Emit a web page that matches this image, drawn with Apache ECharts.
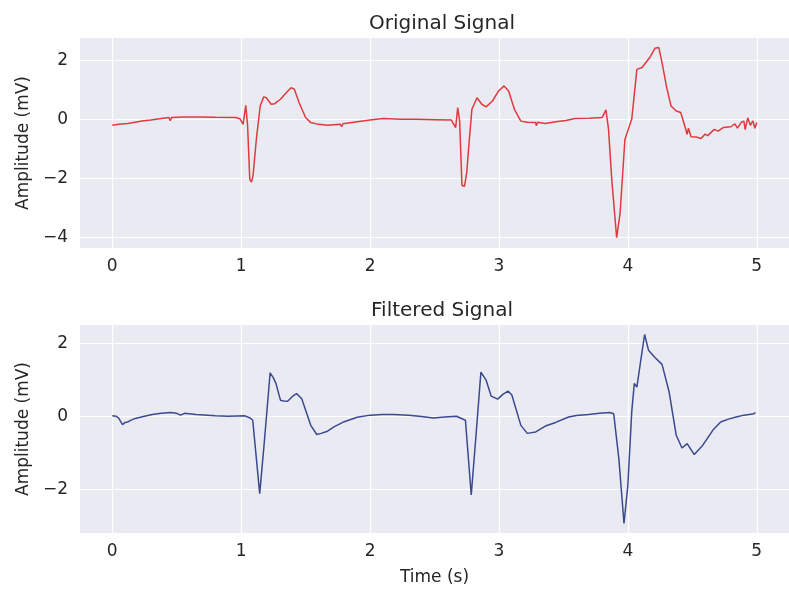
<!DOCTYPE html>
<html>
<head>
<meta charset="utf-8">
<script src="https://cdn.jsdelivr.net/npm/echarts@6/dist/echarts.min.js"></script>
<style>
    html, body { margin: 0; padding: 0; background: #fff; }
    #chart { width: 789px; height: 592px; }
</style>
</head>
<body>
<div id="chart"></div>
<script>
// ticks
var xTicks = [0, 1, 2, 3, 4, 5];
var yTicksTop = [-4, -2, 0, 2];
var yTicksBottom = [-2, 0, 2];

// original signal (time in s, amplitude in mV)
var tOrig = [0, 0.05, 0.12, 0.2, 0.23, 0.3, 0.38, 0.44, 0.45, 0.46, 0.55, 0.67, 0.8, 0.96, 0.99,
    1.015, 1.036, 1.05, 1.067, 1.08, 1.092, 1.105, 1.118, 1.148, 1.175, 1.195, 1.233, 1.26, 1.305,
    1.35, 1.387, 1.413, 1.45, 1.5, 1.54, 1.6, 1.67, 1.77, 1.78, 1.79, 1.9, 2.0, 2.1, 2.24, 2.36,
    2.5, 2.63, 2.664, 2.68, 2.695, 2.713, 2.733, 2.75, 2.77, 2.79, 2.83, 2.867, 2.9, 2.95, 2.997,
    3.04, 3.075, 3.12, 3.17, 3.22, 3.285, 3.29, 3.3, 3.36, 3.44, 3.52, 3.59, 3.7, 3.8, 3.83, 3.85,
    3.875, 3.913, 3.94, 3.977, 4.008, 4.03, 4.07, 4.11, 4.17, 4.21, 4.24, 4.27, 4.3, 4.335, 4.375,
    4.41, 4.44, 4.46, 4.47, 4.49, 4.53, 4.567, 4.6, 4.62, 4.67, 4.7, 4.74, 4.8, 4.83, 4.85, 4.88,
    4.9, 4.91, 4.93, 4.95, 4.97, 4.985, 5.0];
var vOrig = [-0.2, -0.17, -0.14, -0.08, -0.06, -0.02, 0.03, 0.06, -0.05, 0.06, 0.08, 0.08, 0.07, 0.06, 0.02,
    -0.17, 0.47, -0.2, -2.03, -2.12, -1.92, -1.3, -0.68, 0.45, 0.76, 0.73, 0.51, 0.53, 0.68,
    0.9, 1.07, 1.02, 0.56, 0.06, -0.11, -0.17, -0.2, -0.17, -0.25, -0.15, -0.08, -0.02, 0.03, 0.0, 0.0,
    -0.01, -0.02, -0.28, 0.4, -0.05, -2.24, -2.26, -1.8, -0.7, 0.34, 0.73, 0.51, 0.42, 0.62, 0.96,
    1.13, 0.96, 0.34, -0.06, -0.1, -0.11, -0.22, -0.1, -0.14, -0.08, -0.04, 0.03, 0.04, 0.06, 0.32, -0.34,
    -2.03, -4.0, -3.16, -0.68, -0.28, 0.0, 1.69, 1.75, 2.09, 2.4, 2.43, 1.81, 1.1, 0.45, 0.28,
    0.23, -0.2, -0.51, -0.3, -0.59, -0.6, -0.65, -0.5, -0.55, -0.34, -0.4, -0.28, -0.25, -0.15, -0.3, -0.1,
    -0.06, -0.35, 0.05, -0.2, -0.05, -0.3, -0.11];

// filtered signal
var tFilt = [0, 0.03, 0.05, 0.08, 0.1, 0.118, 0.15, 0.18, 0.25, 0.31, 0.38, 0.45, 0.5, 0.53, 0.56,
    0.65, 0.8, 0.9, 1.03, 1.07, 1.09, 1.144, 1.18, 1.225, 1.25, 1.27, 1.305, 1.33, 1.36, 1.4, 1.43,
    1.47, 1.54, 1.587, 1.62, 1.67, 1.72, 1.8, 1.85, 1.9, 2.0, 2.1, 2.18, 2.3, 2.4, 2.49, 2.58, 2.67,
    2.74, 2.785, 2.82, 2.86, 2.9, 2.94, 2.99, 3.03, 3.07, 3.1, 3.17, 3.22, 3.285, 3.36, 3.44, 3.54,
    3.6, 3.695, 3.78, 3.86, 3.89, 3.93, 3.97, 4.0, 4.03, 4.05, 4.07, 4.1, 4.13, 4.16, 4.21, 4.265,
    4.32, 4.375, 4.42, 4.46, 4.515, 4.58, 4.66, 4.72, 4.78, 4.84, 4.9, 4.94, 4.97, 4.99];
var vFilt = [0.01, 0.0, -0.05, -0.23, -0.17, -0.16, -0.1, -0.06, 0.0, 0.05, 0.08, 0.1, 0.08, 0.03, 0.08,
    0.05, 0.01, 0.0, 0.01, -0.05, -0.11, -2.12, -0.7, 1.19, 1.05, 0.9, 0.44, 0.42, 0.41, 0.55, 0.62,
    0.48, -0.25, -0.5, -0.47, -0.41, -0.29, -0.15, -0.09, -0.03, 0.03, 0.05, 0.05, 0.03, -0.01, -0.05, -0.02, 0.0,
    -0.11, -2.16, -0.61, 1.21, 0.99, 0.55, 0.47, 0.6, 0.69, 0.58, -0.25, -0.47, -0.43, -0.27, -0.17, -0.02,
    0.02, 0.05, 0.08, 0.1, 0.07, -1.16, -2.94, -1.89, 0.12, 0.9, 0.8, 1.53, 2.24, 1.81, 1.61, 1.42,
    0.67, -0.52, -0.87, -0.75, -1.05, -0.8, -0.38, -0.16, -0.08, -0.02, 0.03, 0.05, 0.06, 0.1];

function pairs(t, v) {
    return t.map(function (x, i) { return [x, v[i]]; });
}

var textColor = '#262626';
var font = 'DejaVu Sans';

function xAxisFor(gridIndex, withName) {
    return {
        type: 'value', gridIndex: gridIndex, min: -0.25, max: 5.25,
        name: withName ? 'Time (s)' : '', nameLocation: 'middle', nameGap: 36,
        nameTextStyle: { color: textColor, fontSize: 17, fontFamily: font },
        axisLine: { show: false },
        axisTick: { show: false, customValues: xTicks },
        axisLabel: { customValues: xTicks, color: textColor, fontSize: 17, fontFamily: font, margin: 10 },
        splitLine: { show: true, lineStyle: { color: '#ffffff', width: 1.2 } }
    };
}

function yAxisFor(gridIndex, min, max, ticks) {
    return {
        type: 'value', gridIndex: gridIndex, min: min, max: max,
        name: 'Amplitude (mV)', nameLocation: 'middle', nameGap: 48, nameRotate: 90,
        nameTextStyle: { color: textColor, fontSize: 17, fontFamily: font },
        axisLine: { show: false },
        axisTick: { show: false, customValues: ticks },
        axisLabel: {
            customValues: ticks, color: textColor, fontSize: 17, fontFamily: font, margin: 12,
            formatter: function (v) { return String(v).replace('-', '\u2212'); }
        },
        splitLine: { show: true, lineStyle: { color: '#ffffff', width: 1.2 } }
    };
}

var chart = echarts.init(document.getElementById('chart'), null, { renderer: 'canvas' });
chart.setOption({
    backgroundColor: '#ffffff',
    animation: false,
    title: [
        { text: 'Original Signal', left: 437, top: 9, textAlign: 'center',
          textStyle: { color: textColor, fontSize: 20, fontWeight: 'normal', fontFamily: font } },
        { text: 'Filtered Signal', left: 437, top: 296, textAlign: 'center',
          textStyle: { color: textColor, fontSize: 20, fontWeight: 'normal', fontFamily: font } }
    ],
    grid: [
        { left: 80, top: 38, width: 715, height: 210, show: true, backgroundColor: '#EAEAF2', borderWidth: 0 },
        { left: 80, top: 325, width: 715, height: 208, show: true, backgroundColor: '#EAEAF2', borderWidth: 0 }
    ],
    xAxis: [xAxisFor(0, false), xAxisFor(1, true)],
    yAxis: [yAxisFor(0, -4.35, 2.75, yTicksTop), yAxisFor(1, -3.2, 2.5, yTicksBottom)],
    series: [
        {
            type: 'line', xAxisIndex: 0, yAxisIndex: 0, data: pairs(tOrig, vOrig),
            showSymbol: false, lineStyle: { color: '#e0393e', width: 1.5 }
        },
        {
            type: 'line', xAxisIndex: 1, yAxisIndex: 1, data: pairs(tFilt, vFilt),
            showSymbol: false, lineStyle: { color: '#3a4a8e', width: 1.5 }
        }
    ]
});
</script>
</body>
</html>
